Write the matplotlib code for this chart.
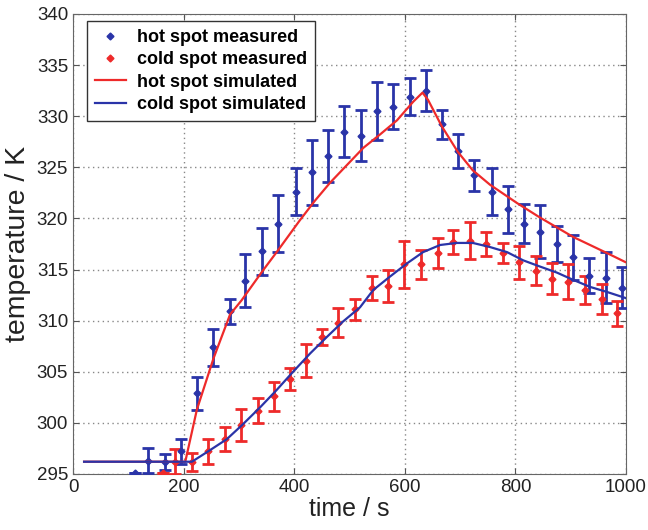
import matplotlib
matplotlib.use("Agg")
import matplotlib.pyplot as plt
from matplotlib.lines import Line2D

plt.rcParams['font.family'] = ['Liberation Sans', 'DejaVu Sans']

BLUE = '#2a34a8'
RED = '#ee2a2a'

# hot spot measured (blue)
hot_t = [112, 136, 166, 195, 224, 254, 284, 311, 342, 371, 403, 433, 461, 490, 520, 550, 579, 609,
         638, 668, 697, 726, 757, 787, 816, 845, 875, 905, 934, 963, 993]
hot_T = [295.1, 296.3, 296.2, 297.2, 302.9, 307.4, 310.9, 313.9, 316.8, 319.5, 322.6, 324.5, 326.1,
         328.5, 328.1, 330.5, 330.9, 331.9, 332.5, 329.2, 326.6, 324.2, 322.6, 320.9, 319.5, 318.7,
         317.5, 316.2, 314.4, 314.2, 313.2]
hot_err = [0.0, 1.2, 0.8, 1.2, 1.6, 1.8, 1.2, 2.6, 2.3, 2.8, 2.3, 3.2, 2.5, 2.5, 2.5, 2.8, 2.2, 1.8,
           2.0, 1.4, 1.7, 1.5, 2.3, 2.3, 1.9, 2.6, 1.8, 2.2, 1.7, 2.5, 2.0]

# cold spot measured (red)
cold_t = [163, 185, 215, 245, 274, 304, 334, 364, 392, 421, 451, 480, 510, 540, 569, 599, 629, 660,
          688, 718, 747, 777, 807, 837, 866, 895, 926, 957, 984]
cold_T = [295.1, 296.2, 296.2, 297.2, 298.4, 299.8, 301.2, 302.6, 304.3, 306.1, 308.4, 309.8, 311.1,
          313.2, 313.4, 315.5, 315.5, 316.6, 317.7, 317.8, 317.5, 316.6, 315.7, 314.9, 314.1, 313.8,
          313.0, 312.1, 310.7]
cold_err = [0.0, 1.2, 0.9, 1.2, 1.2, 1.6, 1.2, 1.4, 1.1, 1.6, 0.8, 1.4, 1.0, 1.2, 1.6, 2.3, 1.4, 1.5,
            1.2, 1.8, 1.2, 1.0, 1.6, 1.4, 1.5, 1.7, 1.4, 1.5, 1.2]

# hot spot simulated (red line)
hs_t = [20, 203, 224, 254, 284, 305, 342, 371, 410, 437, 465, 495, 525, 555, 586, 615, 632, 642,
        667, 696, 723, 754, 803, 844, 904, 966, 1000]
hs_T = [296.2, 296.2, 301.3, 306.3, 310.6, 312.0, 314.8, 316.9, 319.8, 321.7, 323.5, 325.2, 326.9,
        328.2, 329.6, 331.4, 332.3, 331.6, 329.0, 326.5, 324.7, 323.3, 321.5, 320.1, 318.2, 316.6,
        315.7]

# cold spot simulated (blue line)
cs_t = [20, 215, 244, 278, 306, 338, 368, 398, 429, 459, 488, 519, 543, 573, 604, 633, 664, 694,
        723, 754, 785, 814, 844, 875, 904, 935, 966, 1000]
cs_T = [296.2, 296.2, 297.2, 298.4, 299.8, 301.5, 303.2, 305.0, 306.8, 308.4, 309.9, 311.3, 313.0,
        314.3, 315.6, 316.7, 317.4, 317.6, 317.6, 317.2, 316.7, 315.9, 315.3, 314.7, 314.0, 313.3,
        312.8, 312.2]

legend_labels = ['hot spot measured', 'cold spot measured', 'hot spot simulated', 'cold spot simulated']

fig = plt.figure(figsize=(6.48, 5.30), dpi=100)
ax = fig.add_axes([0.1127, 0.1057, 0.8533, 0.868])

ax.errorbar(hot_t, hot_T, yerr=hot_err, fmt='D', color=BLUE, ms=3.5, capsize=4, elinewidth=2,
            capthick=2, zorder=3)
ax.errorbar(cold_t, cold_T, yerr=cold_err, fmt='D', color=RED, ms=3.5, capsize=4, elinewidth=2,
            capthick=2, zorder=3)
ax.plot(hs_t, hs_T, color=RED, lw=1.6, zorder=4)
ax.plot(cs_t, cs_T, color=BLUE, lw=1.6, zorder=4)

ax.set_xlim(0, 1000)
ax.set_ylim(295, 340)
ax.set_xticks([0, 200, 400, 600, 800, 1000])
ax.set_yticks(range(295, 341, 5))
ax.tick_params(direction='in', top=True, right=True, labelsize=13.5, length=4, color='#555555',
               labelcolor='#222222')
for s in ax.spines.values():
    s.set_color('#666666')
ax.grid(True, linestyle=(0, (1, 2.5)), color='#888888', lw=1)
ax.set_xlabel('time / s', fontsize=18, labelpad=1, color='#222222')
ax.set_ylabel('temperature / K', fontsize=20.5, labelpad=4, color='#222222')

h = [Line2D([], [], marker='D', color=BLUE, ls='none', ms=3.5),
     Line2D([], [], marker='D', color=RED, ls='none', ms=3.5),
     Line2D([], [], color=RED, lw=1.6),
     Line2D([], [], color=BLUE, lw=1.6)]
leg = ax.legend(h, legend_labels,
                loc='upper left', bbox_to_anchor=(0.025, 0.985), borderaxespad=0,
                prop={'weight': 'bold', 'size': 13},
                fancybox=False, framealpha=1, edgecolor='#333333', handlelength=1.7,
                borderpad=0.45, labelspacing=0.3, handletextpad=0.6)
leg.get_frame().set_linewidth(1.0)

fig.savefig('out.png', dpi=100)
